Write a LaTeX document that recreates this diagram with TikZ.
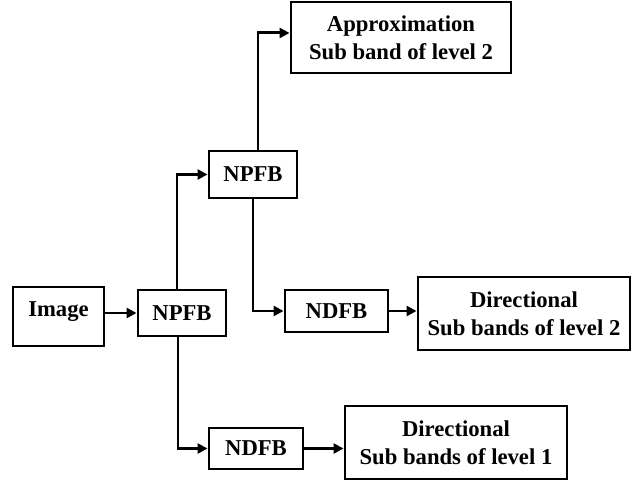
\documentclass[tikz,border=0pt]{standalone}
\usepackage{fontspec}
\setmainfont{Liberation Serif}
\usetikzlibrary{arrows.meta}
\begin{document}
\begin{tikzpicture}[x=0.75pt,y=-0.75pt,
  box/.style={draw=black, line width=2.2pt, fill=white, inner sep=0pt, align=center,
    font=\fontsize{17}{21}\selectfont\bfseries},
  arr/.style={draw=black, line width=2.2pt, -{Triangle[length=7.5pt,width=7.5pt]}}]
\useasboundingbox[fill=white] (0,0) rectangle (631,481);
\node[box, minimum width=68.25pt, minimum height=44.25pt] (img) at (58.5,316.5) {};
\node[font=\fontsize{17}{21}\selectfont\bfseries, inner sep=0pt] (imgtxt) at (58.5,312) {Image};
\node[box, minimum width=66pt, minimum height=34.5pt] (npfbA) at (182,313) {NPFB};
\node[box, minimum width=66pt, minimum height=35.25pt] (npfbB) at (253,174.5) {NPFB};
\node[box, minimum width=165pt, minimum height=53.25pt] (approx) at (401,37.5) {Approximation\\Sub band of level 2};
\node[box, minimum width=77.25pt, minimum height=31.5pt] (ndfbB) at (336.5,311) {NDFB};
\node[box, minimum width=159pt, minimum height=54.75pt] (dirB) at (524,313.5) {Directional\\Sub bands of level 2};
\node[box, minimum width=70.5pt, minimum height=30.75pt] (ndfbA) at (256,448.5) {NDFB};
\node[box, minimum width=166.5pt, minimum height=54.75pt] (dirA) at (456,442.5) {Directional\\Sub bands of level 1};
\draw[arr] (img.east |- npfbA.west) -- (npfbA.west);
\draw[arr] ([xshift=-3.75pt]npfbA.north) |- (npfbB.west);
\draw[arr] ([xshift=3.75pt]npfbB.north) |- ([yshift=3.4pt]approx.west);
\draw[arr] (npfbB.south) |- (ndfbB.west);
\draw[arr] (ndfbB.east) -- (ndfbB.east -| dirB.west);
\draw[arr] ([xshift=-3pt]npfbA.south) |- (ndfbA.west);
\draw[arr] (ndfbA.east) -- (ndfbA.east -| dirA.west);
\end{tikzpicture}
\end{document}
